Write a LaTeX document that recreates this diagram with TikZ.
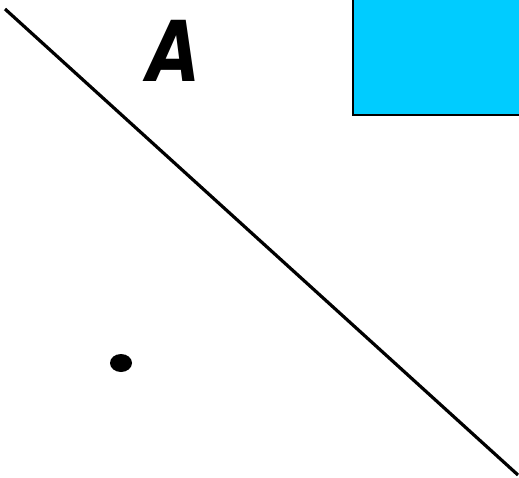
\documentclass[tikz,border=0pt]{standalone}
\usepackage{fontspec}
\setmainfont{DejaVu Sans}
\definecolor{skyblue}{HTML}{00CCFF}
\begin{document}
\begin{tikzpicture}[x=1pt,y=-1pt,
  labeltext/.style={inner sep=0pt,font=\fontsize{84}{84}\selectfont\bfseries\itshape},
  mainline/.style={line width=3.2pt},
  bluebox/.style={fill=skyblue,draw=black,line width=2pt}]
\useasboundingbox (0,0) rectangle (519,477);
\fill[white] (0,0) rectangle (519,477);
\draw[bluebox] (353,-5) rectangle (525,115);
\coordinate (s) at (5,9);
\coordinate (e) at (518,475);
\draw[mainline] (s) -- (e);
\node[labeltext,anchor=base] (A) at (174,81) {\addfontfeature{FakeStretch=0.82}A};
\fill (121,363) ellipse [x radius=11, y radius=9];
\end{tikzpicture}
\end{document}
